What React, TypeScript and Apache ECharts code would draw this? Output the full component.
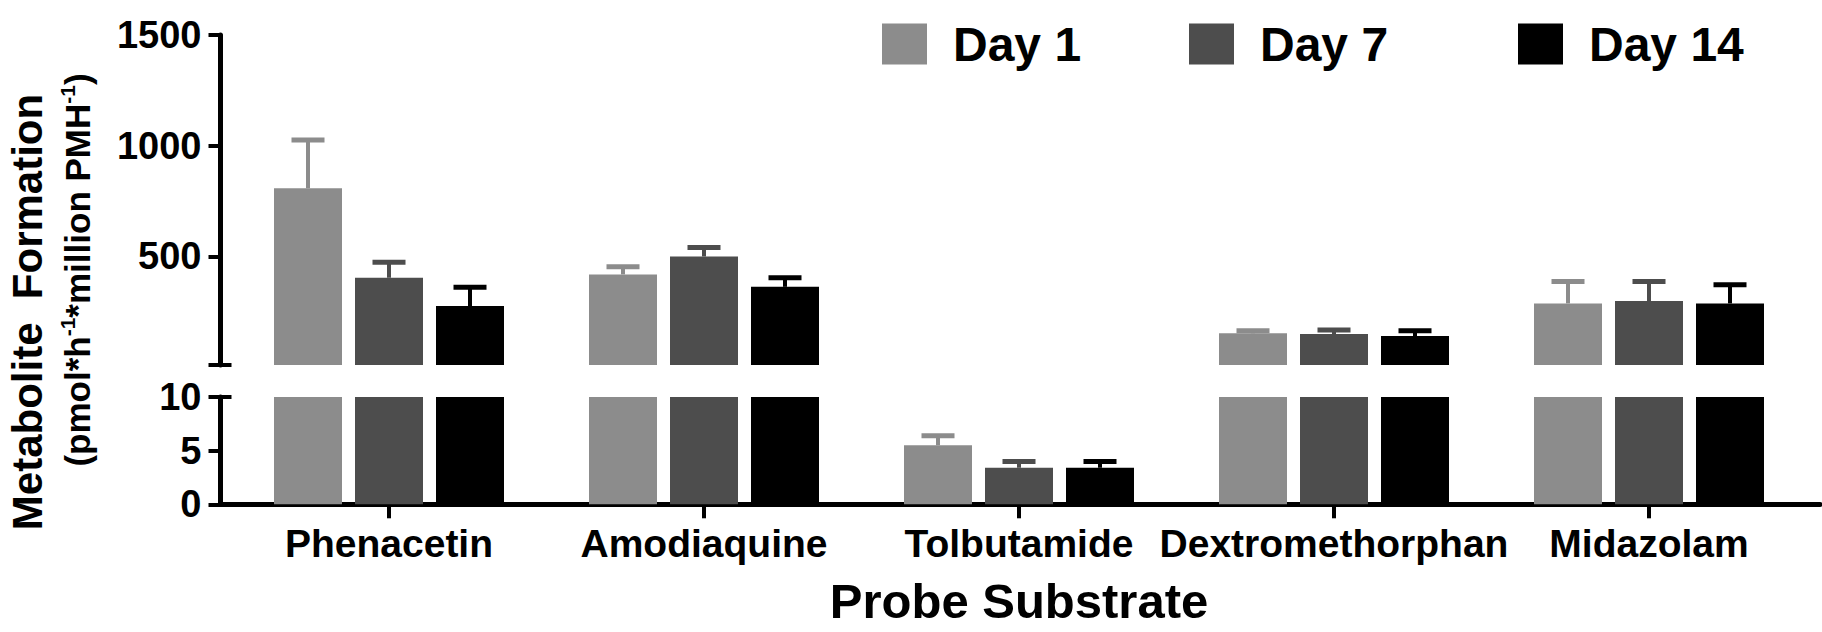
import React, { useEffect, useRef } from "react";
import * as echarts from "echarts";

const categories = ["Phenacetin", "Amodiaquine", "Tolbutamide", "Dextromethorphan", "Midazolam"];
const seriesNames = ["Day 1", "Day 7", "Day 14"];
const day1 = [808, 419, 5.5, 153, 288];
const day1Err = [218, 35, 0.9, 12, 99];
const day7 = [404, 500, 3.4, 150, 299];
const day7Err = [70, 40, 0.6, 18, 88];
const day14 = [276, 363, 3.4, 141, 288];
const day14Err = [85, 41, 0.6, 24, 84];
const topTicks = [10, 500, 1000, 1500];
const topLabels = [500, 1000, 1500];
const topRange = [10, 1500];
const bottomRange = [0, 10];
const breakValue = 10;

const F = '"Liberation Sans", Arial, Helvetica, sans-serif';
const colors = ["#8c8c8c", "#4d4d4d", "#000000"];
const BAR_W = 68;
const BAR_GAP = 13;
const offsets = [-(BAR_W + BAR_GAP), 0, BAR_W + BAR_GAP];

export default function App() {
  const ref = useRef<HTMLDivElement>(null);
  useEffect(() => {
    document.body.style.margin = "0";
    const chart = echarts.init(ref.current!, null, { renderer: "svg", width: 1822, height: 632 });
    const means = [day1, day7, day14];
    const errs = [day1Err, day7Err, day14Err];

    const barL = 231.5;
    const barW = 1575;
    const axisL = 220.5;
    const axisW = 1599.5;
    const topT = 35, topH = 330, botT = 397, botH = 107.3;
    const grids = [
      { left: barL, top: topT, width: barW, height: topH },
      { left: barL, top: botT, width: barW, height: botH },
      { left: axisL, top: topT, width: axisW, height: topH },
      { left: axisL, top: botT, width: axisW, height: botH },
      { left: 100, top: botT, width: axisL - 100, height: botH },
    ];

    const series: any[] = [];
    [0, 1].forEach((g) => {
      means.forEach((m, i) => {
        series.push({
          type: "bar",
          name: seriesNames[i],
          xAxisIndex: g,
          yAxisIndex: g,
          data: m,
          barWidth: BAR_W,
          barGap: (BAR_GAP / BAR_W) * 100 + "%",
          itemStyle: { color: colors[i] },
          clip: true,
          z: 2,
        });
      });
    });
    [0, 1].forEach((g) => {
      means.forEach((m, i) => {
        series.push({
          type: "custom",
          name: "err" + g + i,
          xAxisIndex: g,
          yAxisIndex: g,
          clip: true,
          z: 5,
          data: m.map((v, k) => [k, v, errs[i][k]]),
          encode: { x: 0, y: 1 },
          renderItem: (params: any, api: any) => {
            const cat = api.value(0);
            const mean = api.value(1);
            const err = api.value(2);
            const inTop = mean > breakValue;
            if ((g === 0 && !inTop) || (g === 1 && inTop)) return null;
            const base = api.coord([cat, mean]);
            const top = api.coord([cat, mean + err]);
            const x = base[0] + offsets[i];
            return {
              type: "group",
              children: [
                { type: "line", shape: { x1: x, y1: base[1], x2: x, y2: top[1] }, style: { stroke: colors[i], lineWidth: 4 } },
                { type: "line", shape: { x1: x - 16.5, y1: top[1], x2: x + 16.5, y2: top[1] }, style: { stroke: colors[i], lineWidth: 5 } },
              ],
            };
          },
        });
      });
    });

    const legendBase = {
      top: 15,
      itemWidth: 45,
      itemHeight: 41,
      icon: "rect",
      selectedMode: false,
      textStyle: { fontSize: 48, fontWeight: "bold", fontFamily: F, color: "#000", padding: [0, 0, 0, 21] },
    };

    const tickStyle = () => ({ color: "#000", width: 4, type: "solid" });
    const labelStyle = () => ({ fontSize: 38, fontWeight: "bold", fontFamily: F, color: "#000", margin: 19, formatter: (v: number) => String(v) });
    const hiddenY = (grid: number, range: number[]) => ({
      type: "value", gridIndex: grid, min: range[0], max: range[1], show: false, splitLine: { show: false },
    });
    const capAxis = (grid: number, range: number[]) => ({
      type: "value",
      gridIndex: grid,
      position: "left",
      min: range[0],
      max: range[1],
      splitLine: { show: false },
      axisLine: { show: false },
      axisTick: { show: true, inside: true, length: 11, customValues: [breakValue], lineStyle: tickStyle() },
      axisLabel: { show: false },
    });

    const option: any = {
      animation: false,
      backgroundColor: "#fff",
      grid: grids,
      legend: [
        { ...legendBase, left: 877, data: [seriesNames[0]] },
        { ...legendBase, left: 1184, data: [seriesNames[1]] },
        { ...legendBase, left: 1513, data: [seriesNames[2]] },
      ],
      xAxis: [
        { type: "category", gridIndex: 0, data: categories, show: false },
        {
          type: "category",
          gridIndex: 1,
          data: categories,
          axisLine: { show: false },
          axisTick: { show: true, alignWithLabel: true, length: 14, lineStyle: tickStyle() },
          axisLabel: { interval: 0, fontSize: 39, fontWeight: "bold", fontFamily: F, color: "#000", margin: 20 },
          name: "Probe Substrate",
          nameLocation: "middle",
          nameGap: 72,
          nameTextStyle: { fontSize: 49, fontWeight: "bold", fontFamily: F, color: "#000" },
        },
        { type: "value", gridIndex: 2, min: 0, max: 1, show: false },
        {
          type: "value",
          gridIndex: 3,
          min: 0,
          max: 1,
          splitLine: { show: false },
          axisLine: { show: true, onZero: false, lineStyle: { color: "#000", width: 5 } },
          axisTick: { show: false },
          axisLabel: { show: false },
        },
        { type: "value", gridIndex: 4, min: 0, max: 1, show: false },
      ],
      yAxis: [
        hiddenY(0, topRange),
        hiddenY(1, bottomRange),
        {
          type: "value",
          show: true,
          z: 10,
          gridIndex: 2,
          position: "left",
          min: topRange[0],
          max: topRange[1],
          splitLine: { show: false },
          axisLine: { show: true, onZero: false, lineStyle: { color: "#000", width: 5, type: "solid", opacity: 1 } },
          axisTick: { show: true, inside: false, length: 12, customValues: topTicks, lineStyle: tickStyle() },
          axisLabel: { ...labelStyle(), customValues: topLabels },
        },
        capAxis(2, topRange),
        {
          type: "value",
          show: true,
          z: 10,
          gridIndex: 4,
          position: "right",
          min: bottomRange[0],
          max: bottomRange[1],
          interval: 5,
          splitLine: { show: false },
          axisLine: { show: true, onZero: false, lineStyle: { color: "#000", width: 5, type: "solid", opacity: 1 } },
          axisTick: { show: true, inside: true, length: 12, lineStyle: tickStyle() },
          axisLabel: { ...labelStyle(), inside: true },
        },
        capAxis(3, bottomRange),
      ],
      graphic: [
        {
          type: "text",
          x: 27,
          y: 312,
          rotation: Math.PI / 2,
          style: {
            text: "Metabolite  Formation",
            fontSize: 42,
            fontWeight: "bold",
            fontFamily: F,
            fill: "#000",
            align: "center",
            verticalAlign: "middle",
          },
        },
        {
          type: "text",
          x: 77,
          y: 270,
          rotation: Math.PI / 2,
          style: {
            text: "{n|(pmol*h}{s|-1}{n|*million PMH}{s|-1}{n|)}",
            align: "center",
            verticalAlign: "middle",
            rich: {
              n: { fontSize: 35, fontWeight: "bold", fontFamily: F, fill: "#000", lineHeight: 40 },
              s: { fontSize: 21, fontWeight: "bold", fontFamily: F, fill: "#000", lineHeight: 23, verticalAlign: "top" },
            },
          },
        },
      ],
      series,
    };
    chart.setOption(option);
    return () => chart.dispose();
  }, []);
  return <div ref={ref} style={{ position: "absolute", left: 0, top: 0, width: 1822, height: 632 }} />;
}
